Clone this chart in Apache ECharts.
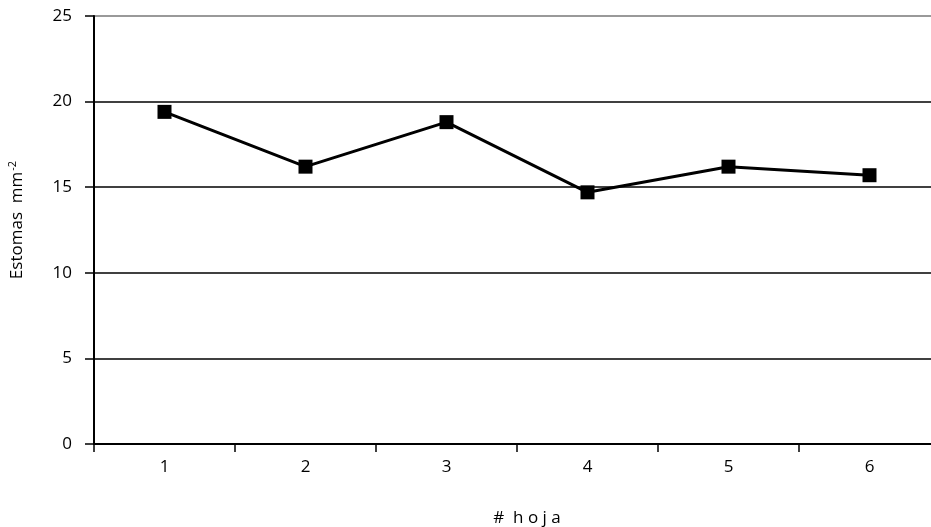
<!DOCTYPE html>
<html>
<head>
<meta charset="utf-8">
<script src="https://cdn.jsdelivr.net/npm/echarts@6/dist/echarts.min.js"></script>
<style>
html,body{margin:0;padding:0;background:#fff;}
#wrap{position:relative;width:931px;height:527px;overflow:hidden;}
#c{position:absolute;left:0;top:0;width:941px;height:527px;}
</style>
</head>
<body>
<div id="wrap"><div id="c"></div></div>
<script>
const categories = ['1', '2', '3', '4', '5', '6'];
const estomas = [19.4, 16.2, 18.8, 14.7, 16.2, 15.7];
const yTicks = { min: 0, max: 25, interval: 5 };

const FONT = '"Open Sans", "Noto Sans", sans-serif';
const chart = echarts.init(document.getElementById('c'), null, { renderer: 'canvas' });
chart.setOption({
  backgroundColor: '#fff',
  animation: false,
  grid: { left: 94, top: 16, right: 1, height: 428, containLabel: false, outerBoundsMode: 'none' },
  xAxis: {
    type: 'category',
    data: categories,
    boundaryGap: true,
    name: '#  h o j a',
    nameLocation: 'middle',
    nameGap: 66,
    nameTextStyle: { fontFamily: FONT, fontSize: 17, color: '#000', padding: [0, 0, 0, 20] },
    axisLine: { show: true, lineStyle: { color: '#000', width: 2 } },
    axisTick: { show: true, inside: false, length: 8, alignWithLabel: false, interval: 0, lineStyle: { color: '#000', width: 1.5 } },
    axisLabel: { fontFamily: FONT, fontSize: 17, color: '#000', margin: 15 },
    splitLine: { show: false }
  },
  yAxis: {
    type: 'value',
    min: yTicks.min,
    max: yTicks.max,
    interval: yTicks.interval,
    name: '{a|Estomas  mm}{s|-2}',
    nameLocation: 'middle',
    nameGap: 66,
    nameRotate: 90,
    nameTextStyle: {
      fontFamily: FONT, fontSize: 17, color: '#000',
      padding: [0, 0, 0, 20],
      rich: {
        a: { fontFamily: FONT, fontSize: 17, color: '#000' },
        s: { fontFamily: FONT, fontSize: 11, color: '#000', padding: [0, 0, 10, 1] }
      }
    },
    axisLine: { show: true, lineStyle: { color: '#000', width: 2 } },
    axisTick: { show: true, inside: false, length: 9, lineStyle: { color: '#000', width: 1.5 } },
    axisLabel: { fontFamily: FONT, fontSize: 17, color: '#000', margin: 22 },
    splitLine: { show: true, lineStyle: { color: ['#000', '#000', '#000', '#000', '#000', '#777'], width: 1.5 } }
  },
  series: [{
    type: 'line',
    data: estomas,
    symbol: 'rect',
    symbolSize: 14,
    showAllSymbol: true,
    itemStyle: { color: '#000', borderWidth: 0 },
    lineStyle: { color: '#000', width: 3 }
  }]
});
</script>
</body>
</html>
